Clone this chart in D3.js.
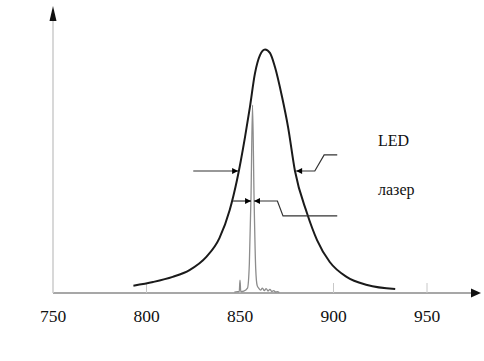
<!DOCTYPE html>
<html><head><meta charset="utf-8">
<script src="https://cdn.jsdelivr.net/npm/d3@7"></script>
<style>body{margin:0;background:#fff}svg{display:block}</style>
</head><body>
<svg id="c" width="484" height="361"></svg>
<script>
// wavelength (nm) and relative intensity
const ledWl  = [793, 803.5, 814, 823, 832, 839, 844.5, 848.4, 852.7, 855.3, 858, 860.7, 863.4, 866, 868.7, 872.5, 875.7, 879.4, 885.8, 891.2, 898, 907, 918, 933];
const ledVal = [0.03, 0.045, 0.066, 0.094, 0.148, 0.225, 0.34, 0.463, 0.64, 0.762, 0.9, 0.975, 0.998, 0.984, 0.926, 0.803, 0.68, 0.5, 0.328, 0.217, 0.127, 0.066, 0.033, 0.016];
const laserWl  = [847, 848.5, 849.6, 850, 850.4, 852, 854, 855, 855.9, 856.7, 857.5, 858.4, 859.2, 860, 861, 862, 863, 864, 865, 866, 867, 868, 869, 870, 871];
const laserVal = [0.004, 0.006, 0.006, 0.053, 0.006, 0.008, 0.02, 0.12, 0.4, 0.77, 0.4, 0.1, 0.03, 0.02, 0.012, 0.02, 0.01, 0.018, 0.008, 0.015, 0.006, 0.01, 0.004, 0.006, 0.002];
const xTicks = [750, 800, 850, 900, 950];
const labels = ["LED", "лазер"];
// FWHM markers: [left start λ, left λ, right λ, level, bend start λ, bend end λ, end level, end λ]
const ledFwhm   = [825, 849, 880, 0.5, 890, 895, 0.566, 902];
const laserFwhm = [846.3, 855.9, 857.5, 0.377, 870, 873, 0.316, 902];

const svg = d3.select("#c");
const x = d3.scaleLinear().domain([750, 950]).range([53, 427]);
const y = d3.scaleLinear().domain([0, 1]).range([293, 49]);

// axes
svg.append("line").attr("x1", x(750)).attr("x2", 473).attr("y1", y(0)).attr("y2", y(0))
  .attr("stroke", "#8a8a8a").attr("stroke-width", 1.5);
svg.append("path").attr("d", `M481,${y(0)} L471,${y(0)-4.5} L471,${y(0)+4.5} Z`).attr("fill", "#111");
svg.append("line").attr("x1", x(750)).attr("x2", x(750)).attr("y1", y(0)).attr("y2", 20)
  .attr("stroke", "#cfcfcf").attr("stroke-width", 1.6);
svg.append("path").attr("d", `M${x(750)},6 L${x(750)-3.5},21 L${x(750)+3.5},21 Z`).attr("fill", "#111");

svg.selectAll(".tk").data(xTicks.slice(1)).enter().append("line")
  .attr("x1", d => x(d)).attr("x2", d => x(d)).attr("y1", y(0)).attr("y2", y(0) - 10)
  .attr("stroke", "#c8c8c8").attr("stroke-width", 1);
svg.selectAll(".tl").data(xTicks).enter().append("text")
  .attr("x", d => x(d)).attr("y", 322).attr("text-anchor", "middle")
  .attr("font-family", "Liberation Serif, Times New Roman, serif").attr("font-size", 17.5)
  .attr("fill", "#111").text(d => d);

// laser spectrum
const laserLine = d3.line().x((d, i) => x(laserWl[i])).y(d => y(d)).curve(d3.curveMonotoneX);
svg.append("path").attr("d", laserLine(laserVal)).attr("fill", "none")
  .attr("stroke", "#8c8c8c").attr("stroke-width", 1.3);

// LED spectrum
const ledLine = d3.line().x((d, i) => x(ledWl[i])).y(d => y(d)).curve(d3.curveMonotoneX);
svg.append("path").attr("d", ledLine(ledVal)).attr("fill", "none")
  .attr("stroke", "#1a1a1a").attr("stroke-width", 2);

// FWHM arrows
function head(px, py, dir) {
  svg.append("path").attr("d", `M${px},${py} L${px - dir*6},${py-3} L${px - dir*6},${py+3} Z`).attr("fill", "#000");
}
function fwhm(f) {
  const [s, l, r, lev, b1, b2, endLev, end] = f;
  const yy = y(lev);
  svg.append("line").attr("x1", x(s)).attr("x2", x(l)).attr("y1", yy).attr("y2", yy)
    .attr("stroke", "#333").attr("stroke-width", 1.2);
  head(x(l), yy, 1);
  svg.append("path").attr("d", `M${x(r)},${yy} L${x(b1)},${yy} L${x(b2)},${y(endLev)} L${x(end)},${y(endLev)}`)
    .attr("fill", "none").attr("stroke", "#333").attr("stroke-width", 1.2);
  head(x(r), yy, -1);
}
fwhm(ledFwhm);
fwhm(laserFwhm);

// labels
svg.selectAll(".lb").data(labels).enter().append("text")
  .attr("x", 378).attr("y", (d, i) => i === 0 ? 146 : 195)
  .attr("font-family", "Liberation Serif, Times New Roman, serif").attr("font-size", 16)
  .attr("fill", "#111").text(d => d);
</script>
</body></html>
